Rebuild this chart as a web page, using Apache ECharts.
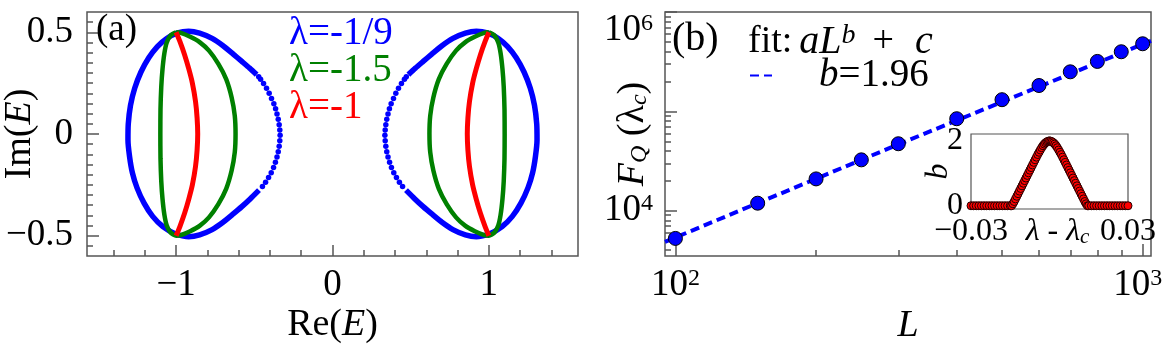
<!DOCTYPE html>
<html>
<head>
<meta charset="utf-8">
<title>spectrum and fidelity scaling</title>
<script src="https://cdn.jsdelivr.net/npm/echarts@6/dist/echarts.min.js"></script>
<style>
    html, body { margin: 0; padding: 0; background: #fff; }
    #main { width: 1163px; height: 349px; }
</style>
</head>
<body>
<div id="main"></div>
<script>
// panel (a): left loops, right loops are their mirror image (Re -> -Re)
var blueSolid = [
    [-0.485, 0.292], [-0.53, 0.324], [-0.58, 0.357], [-0.635, 0.393], [-0.70, 0.434], [-0.77, 0.47],
    [-0.85, 0.496], [-0.92, 0.505], [-0.99, 0.497], [-1.06, 0.47], [-1.12, 0.43], [-1.175, 0.375],
    [-1.225, 0.305], [-1.265, 0.225], [-1.292, 0.14], [-1.306, 0.05], [-1.308, -0.03], [-1.298, -0.11],
    [-1.28, -0.19], [-1.25, -0.265], [-1.205, -0.34], [-1.15, -0.405], [-1.085, -0.455], [-1.0, -0.493],
    [-0.92, -0.505], [-0.85, -0.496], [-0.77, -0.47], [-0.70, -0.434], [-0.635, -0.393], [-0.58, -0.357],
    [-0.525, -0.318], [-0.47, -0.276]
];
var blueDots = [
    [-0.472, 0.281], [-0.46, 0.269], [-0.441, 0.248], [-0.422, 0.225], [-0.405, 0.200], [-0.39, 0.174],
    [-0.375, 0.149], [-0.364, 0.124], [-0.355, 0.098], [-0.347, 0.072], [-0.341, 0.046], [-0.337, 0.020],
    [-0.335, -0.006], [-0.337, -0.033], [-0.341, -0.06], [-0.347, -0.087], [-0.355, -0.113], [-0.365, -0.139],
    [-0.377, -0.165], [-0.392, -0.19], [-0.409, -0.214], [-0.428, -0.237], [-0.448, -0.258]
];
var greenLoop = [
    [-1.0, 0.5], [-1.035, 0.485], [-1.06, 0.45], [-1.075, 0.398], [-1.087, 0.32], [-1.095, 0.233],
    [-1.1, 0.12], [-1.101, 0.0], [-1.1, -0.12], [-1.095, -0.233], [-1.087, -0.32], [-1.075, -0.398],
    [-1.06, -0.45], [-1.035, -0.485], [-1.0, -0.5], [-0.97, -0.497], [-0.91, -0.478], [-0.85, -0.452],
    [-0.79, -0.41], [-0.73, -0.345], [-0.68, -0.27], [-0.645, -0.18], [-0.625, -0.09], [-0.62, 0.0],
    [-0.625, 0.09], [-0.645, 0.18], [-0.68, 0.27], [-0.73, 0.345], [-0.79, 0.41], [-0.85, 0.452],
    [-0.91, 0.478], [-0.97, 0.497], [-1.0, 0.5]
];
var redArc = [
    [-1.0, 0.5], [-0.976, 0.455], [-0.946, 0.39], [-0.919, 0.32], [-0.896, 0.25], [-0.876, 0.16],
    [-0.866, 0.08], [-0.862, 0.0], [-0.866, -0.08], [-0.876, -0.16], [-0.896, -0.25], [-0.919, -0.32],
    [-0.946, -0.39], [-0.976, -0.455], [-1.0, -0.5]
];
var reTicksMajor = [-1, 0, 1];
var reTicksMinor = [-1.4, -1.2, -0.8, -0.6, -0.4, -0.2, 0.2, 0.4, 0.6, 0.8, 1.2, 1.4];
var imTicksMajor = [-0.5, 0, 0.5];
var imTicksMinor = [-0.55, -0.45, -0.4, -0.35, -0.3, -0.25, -0.2, -0.15, -0.1, -0.05,
    0.05, 0.1, 0.15, 0.2, 0.25, 0.3, 0.35, 0.4, 0.45, 0.55];

// panel (b)
var sizesL = [100, 150, 200, 250, 300, 400, 500, 600, 700, 800, 900, 1000];
var fisherF = [5260, 11900, 20900, 32500, 47200, 84300, 131000, 182000, 250000, 318000, 398000, 479000];
var fitL = [95, 300, 1042];
var fitF = [4860, 46500, 513000];
var lTicksMajor = [100, 1000];
var lTicksMinor = [200, 300, 400, 500, 600, 700, 800, 900];
var fTicksMajor = [1e4, 1e5, 1e6];
var fLabels = [1e4, 1e6];
var fTicksMinor = [4000, 5000, 6000, 7000, 8000, 9000, 20000, 30000, 40000, 50000, 60000, 70000,
    80000, 90000, 200000, 300000, 400000, 500000, 600000, 700000, 800000, 900000];

// inset
var shiftLambda = [
    -0.030, -0.029, -0.028, -0.027, -0.026, -0.025, -0.024, -0.023, -0.022, -0.021, -0.020, -0.019,
    -0.018, -0.017, -0.016, -0.015,
    -0.0145, -0.014, -0.0135, -0.013, -0.0125, -0.012, -0.0115, -0.011, -0.0105, -0.010,
    -0.0095, -0.009, -0.0085, -0.008, -0.0075, -0.007, -0.0065, -0.006, -0.0055, -0.005,
    -0.0045, -0.004, -0.0035, -0.003, -0.0025, -0.002, -0.0015, -0.001, -0.0005, 0,
    0.0005, 0.001, 0.0015, 0.002, 0.0025, 0.003, 0.0035, 0.004, 0.0045, 0.005,
    0.0055, 0.006, 0.0065, 0.007, 0.0075, 0.008, 0.0085, 0.009, 0.0095, 0.010,
    0.0105, 0.011, 0.0115, 0.012, 0.0125, 0.013, 0.0135, 0.014, 0.0145,
    0.015, 0.016, 0.017, 0.018, 0.019, 0.020, 0.021, 0.022, 0.023, 0.024, 0.025, 0.026,
    0.027, 0.028, 0.029, 0.030
];
var exponentB = [
    0, 0, 0, 0, 0, 0, 0, 0, 0, 0, 0, 0, 0, 0, 0, 0,
    0, 0.06, 0.13, 0.21, 0.29, 0.37, 0.45, 0.53, 0.61, 0.69,
    0.77, 0.85, 0.93, 1.01, 1.09, 1.17, 1.25, 1.33, 1.41, 1.49,
    1.57, 1.64, 1.71, 1.78, 1.84, 1.89, 1.93, 1.96, 1.98, 1.99,
    1.98, 1.96, 1.93, 1.89, 1.84, 1.78, 1.71, 1.64, 1.57, 1.49,
    1.41, 1.33, 1.25, 1.17, 1.09, 1.01, 0.93, 0.85, 0.77, 0.69,
    0.61, 0.53, 0.45, 0.37, 0.29, 0.21, 0.13, 0.06, 0,
    0, 0, 0, 0, 0, 0, 0, 0, 0, 0, 0, 0, 0, 0, 0, 0
];
var shiftTicks = [-0.025, -0.02, -0.015, -0.01, -0.005, 0, 0.005, 0.01, 0.015, 0.02, 0.025];
var shiftLabels = [-0.03, 0.03];
var bTicks = [0, 0.2, 0.4, 0.6, 0.8, 1, 1.2, 1.4, 1.6, 1.8, 2];
var bLabels = [0, 2];

var FONT = "'Liberation Serif', 'DejaVu Serif', serif";
var AX = '#555';
var BLUE = '#0000ff', GREEN = '#008000', RED = '#ff0000';

function mirror(pts) {
    return pts.map(function (p) { return [-p[0], p[1]]; });
}
function zip(a, b) {
    return a.map(function (v, i) { return [v, b[i]]; });
}
function signed(v) {
    return v < 0 ? '\u2212' + (-v) : '' + v;
}
function pow10(v) {
    var e = Math.round(Math.log10(v));
    // the 10^3 label sits a little left of its tick, as in the figure
    return '{b|10}{' + (e === 3 ? 'e' : 's') + '|' + e + '}';
}

function txt(size, extra) {
    return Object.assign({ fontFamily: FONT, fontSize: size, fontWeight: 'normal', color: '#000' }, extra || {});
}
var powRich = {
    b: txt(37),
    s: txt(24, { verticalAlign: 'top' }),
    e: txt(24, { verticalAlign: 'top', padding: [0, 10, 0, 0] })
};
var mathRich = {
    t: txt(38),
    i: txt(38, { fontStyle: 'italic' }),
    sub: txt(24, { fontStyle: 'italic', verticalAlign: 'bottom' })
};

// one axis carries the long ticks and labels, a twin at the same place the short ticks
function axisPair(grid, base, major, minor, labels, fmt, majorLen, minorLen, extra) {
    var a = Object.assign({
        gridIndex: grid,
        axisLine: { show: false, onZero: false },
        splitLine: { show: false },
        nameMoveOverlap: false,
        axisTick: { inside: true, length: majorLen, customValues: major, lineStyle: { color: AX, width: 1.5 } },
        axisLabel: Object.assign({ customValues: labels, formatter: fmt }, txt(37))
    }, base, extra || {});
    var b = Object.assign({
        gridIndex: grid,
        axisLine: { show: false, onZero: false },
        splitLine: { show: false },
        axisTick: { inside: true, length: minorLen, customValues: minor, lineStyle: { color: AX, width: 1.5 } },
        axisLabel: { show: false }
    }, base);
    return [a, b];
}

var reAxes = axisPair(0, { type: 'value', min: -1.57, max: 1.57, position: 'bottom' },
    reTicksMajor, reTicksMinor, reTicksMajor, signed, 11, 6, {
        name: '{t|Re(}{i|E}{t|)}', nameLocation: 'middle', nameGap: 50,
        nameTextStyle: { rich: mathRich }
    });
reAxes[0].axisLabel.margin = 11;
var imAxes = axisPair(0, { type: 'value', min: -0.6, max: 0.6, position: 'left' },
    imTicksMajor, imTicksMinor, imTicksMajor, signed, 12, 6, {
        name: '{t|Im(}{i|E}{t|)}', nameLocation: 'middle', nameGap: 48,
        nameTextStyle: { rich: mathRich }
    });
imAxes[0].axisLabel.margin = 14;

var lAxes = axisPair(1, { type: 'log', logBase: 10, min: 95, max: 1042, position: 'bottom' },
    lTicksMajor, lTicksMinor, lTicksMajor, pow10, 12, 6, {
        name: '{i|L}', nameLocation: 'middle', nameGap: 51,
        nameTextStyle: { rich: mathRich }
    });
lAxes[0].axisLabel.rich = powRich;
lAxes[0].axisLabel.margin = 11;
var fAxes = axisPair(1, { type: 'log', logBase: 10, min: 3500, max: 1e6, position: 'left' },
    fTicksMajor, fTicksMinor, fLabels, pow10, 12, 6, {
        name: '{i|F}{sub|Q}{t| (λ}{sub|c}{t|)}', nameLocation: 'middle', nameGap: 13,
        nameTextStyle: { rich: mathRich }
    });
fAxes[0].axisLabel.rich = powRich;
fAxes[0].axisLabel.margin = 12;
fAxes[0].axisLabel.verticalAlignMaxLabel = 'top';

var insetRich = {
    t: txt(32),
    i: txt(32, { fontStyle: 'italic' }),
    sub: txt(21, { fontStyle: 'italic', verticalAlign: 'bottom' })
};
var insetX = {
    gridIndex: 2, type: 'value', min: -0.03, max: 0.03, position: 'bottom',
    axisLine: { show: false, onZero: false }, splitLine: { show: false }, nameMoveOverlap: false,
    axisTick: { inside: true, length: 5, customValues: shiftTicks, lineStyle: { color: AX, width: 1.2 } },
    axisLabel: Object.assign({ customValues: shiftLabels, formatter: signed, margin: 7 }, txt(32)),
    name: '{i|λ}{t| - }{i|λ}{sub|c}', nameLocation: 'middle', nameGap: 7,
    nameTextStyle: { padding: [0, 0, 0, 16], rich: insetRich }
};
var insetYL = {
    gridIndex: 2, type: 'value', min: -0.1, max: 2.2, position: 'left',
    axisLine: { show: false, onZero: false }, splitLine: { show: false }, nameMoveOverlap: false,
    axisTick: { inside: true, length: 5, customValues: bTicks, lineStyle: { color: AX, width: 1.2 } },
    axisLabel: Object.assign({ customValues: bLabels, margin: 8 }, txt(32)),
    name: '{i|b}', nameLocation: 'middle', nameGap: 16,
    nameTextStyle: { rich: insetRich }
};
var insetYR = {
    gridIndex: 2, type: 'value', min: -0.1, max: 2.2, position: 'right',
    axisLine: { show: false, onZero: false }, splitLine: { show: false },
    axisTick: { inside: true, length: 5, customValues: bTicks, lineStyle: { color: AX, width: 1.2 } },
    axisLabel: { show: false }
};

function loopLine(data, color, width) {
    return {
        type: 'line', xAxisIndex: 0, yAxisIndex: 0, data: data, smooth: 0.2,
        showSymbol: false, symbol: 'none', lineStyle: { color: color, width: width }, z: 2
    };
}
function dots(data, color) {
    return {
        type: 'scatter', xAxisIndex: 0, yAxisIndex: 0, data: data, symbolSize: 5.5,
        itemStyle: { color: color, opacity: 1 }, z: 2
    };
}

var chart = echarts.init(document.getElementById('main'));
chart.setOption({
    animation: false,
    backgroundColor: '#fff',
    textStyle: { fontFamily: FONT, fontWeight: 'normal' },
    grid: [
        { left: 87, top: 12, width: 491, height: 244, show: true, borderColor: AX, borderWidth: 1.5,
          outerBoundsMode: 'none', containLabel: false },
        { left: 665, top: 12, width: 486, height: 244, show: true, borderColor: AX, borderWidth: 1.5,
          outerBoundsMode: 'none', containLabel: false },
        { left: 971, top: 134, width: 157, height: 75, show: true, borderColor: AX, borderWidth: 1.2,
          backgroundColor: '#fff', z: 3, outerBoundsMode: 'none', containLabel: false }
    ],
    xAxis: [reAxes[0], reAxes[1], lAxes[0], lAxes[1], insetX],
    yAxis: [imAxes[0], imAxes[1], fAxes[0], fAxes[1], insetYL, insetYR],
    title: [
        { text: '(a)', left: 96, top: 12, padding: 0, textStyle: txt(37) },
        { text: '{b|λ=-1/9}\n{g|λ=-1.5}\n{r|λ=-1}', left: 289, top: 15, padding: 0,
          textStyle: Object.assign(txt(39), {
              rich: {
                  b: txt(39, { color: BLUE, lineHeight: 37 }),
                  g: txt(39, { color: GREEN, lineHeight: 37 }),
                  r: txt(39, { color: RED, lineHeight: 37 })
              }
          }) },
        { text: '(b)', left: 672, top: 19, padding: 0, textStyle: txt(40) },
        { text: '{t|fit:}{g1|}{i|aL}{sup|b}{g2|}{t|+}{g3|}{i|c}', left: 748, top: 22, padding: 0,
          textStyle: Object.assign(txt(38), { rich: {
              t: txt(38),
              i: txt(40, { fontStyle: 'italic' }),
              sup: txt(28, { fontStyle: 'italic', verticalAlign: 'top' }),
              g1: { width: 7 },
              g2: { width: 17 },
              g3: { width: 21 }
          } }) }
    ],
    legend: {
        data: ['fit'], left: 749, top: 56, padding: 0, itemWidth: 22, itemHeight: 4,
        itemStyle: { opacity: 0 }, selectedMode: false,
        formatter: function () { return '{p|}{i|b}{t|=1.96}'; },
        textStyle: Object.assign(txt(39), { rich: {
            p: { width: 42 },
            t: txt(39),
            i: txt(39, { fontStyle: 'italic' })
        } })
    },
    series: [
        loopLine(blueSolid, BLUE, 5.5),
        dots(blueDots, BLUE),
        loopLine(mirror(blueSolid), BLUE, 5.5),
        dots(mirror(blueDots), BLUE),
        loopLine(greenLoop, GREEN, 4.5),
        loopLine(mirror(greenLoop), GREEN, 4.5),
        loopLine(redArc, RED, 5),
        loopLine(mirror(redArc), RED, 5),
        {
            name: 'fit', type: 'line', xAxisIndex: 2, yAxisIndex: 2, data: zip(fitL, fitF),
            symbol: 'none', lineStyle: { color: BLUE, width: 4, type: [9, 5] }, z: 2
        },
        {
            name: 'data', type: 'scatter', xAxisIndex: 2, yAxisIndex: 2, data: zip(sizesL, fisherF),
            symbolSize: 14, itemStyle: { color: BLUE, borderColor: '#000', borderWidth: 1, opacity: 1 }, z: 3
        },
        {
            name: 'inset', type: 'scatter', xAxisIndex: 4, yAxisIndex: 4, data: zip(shiftLambda, exponentB),
            symbolSize: 8, itemStyle: { color: RED, borderColor: '#200', borderWidth: 1, opacity: 1 }, z: 5
        }
    ]
});
</script>
</body>
</html>
